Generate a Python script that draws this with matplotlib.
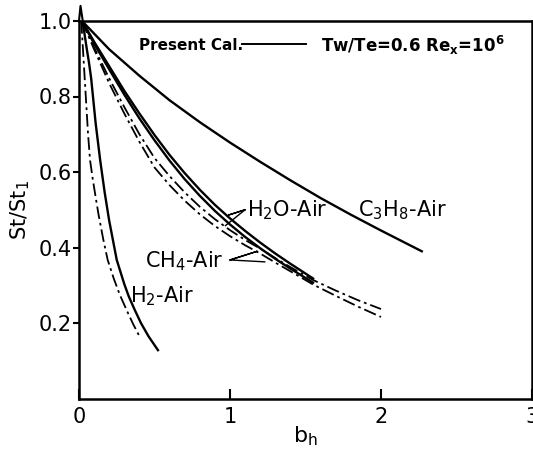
import numpy as np
import matplotlib
matplotlib.use('Agg')
import matplotlib.pyplot as plt

# curves (b_h, St/St1)
c3h8_x = [0.02, 0.2, 0.4, 0.6, 0.8, 1.0, 1.2, 1.4, 1.6, 1.8, 2.0, 2.27]
c3h8_y = [1.0, 0.925, 0.855, 0.79, 0.732, 0.678, 0.627, 0.578, 0.531, 0.487, 0.445, 0.39]

h2o_x = [0.02, 0.1, 0.2, 0.3, 0.4, 0.5, 0.6, 0.7, 0.8, 0.9, 1.0, 1.1, 1.2, 1.3, 1.4, 1.55]
h2o_y = [1.0, 0.945, 0.88, 0.815, 0.755, 0.698, 0.645, 0.597, 0.553, 0.513, 0.477, 0.444,
         0.413, 0.384, 0.357, 0.318]
ch4_x = [0.02, 0.1, 0.2, 0.3, 0.4, 0.5, 0.6, 0.7, 0.8, 0.9, 1.0, 1.1, 1.2, 1.3, 1.4, 1.55]
ch4_y = [1.0, 0.94, 0.872, 0.805, 0.742, 0.684, 0.63, 0.581, 0.537, 0.497, 0.461, 0.428,
         0.398, 0.370, 0.344, 0.307]

h2o_dd_x = [0.02, 0.1, 0.2, 0.3, 0.4, 0.5, 0.6, 0.7, 0.8, 0.9, 1.0, 1.1, 1.2, 1.3, 1.4,
            1.55, 1.7, 1.85, 2.0]
h2o_dd_y = [1.0, 0.93, 0.848, 0.772, 0.70, 0.637, 0.589, 0.546, 0.508, 0.475, 0.446, 0.42,
            0.397, 0.372, 0.348, 0.314, 0.286, 0.26, 0.237]
ch4_dd_x = [0.02, 0.1, 0.2, 0.3, 0.4, 0.5, 0.6, 0.7, 0.8, 0.9, 1.0, 1.1, 1.2, 1.3, 1.4,
            1.55, 1.7, 1.85, 2.0]
ch4_dd_y = [1.0, 0.925, 0.835, 0.755, 0.68, 0.612, 0.565, 0.524, 0.488, 0.457, 0.43, 0.406,
            0.384, 0.36, 0.337, 0.302, 0.272, 0.243, 0.216]

h2_x = [0.02, 0.035, 0.05, 0.066, 0.08, 0.11, 0.14, 0.17, 0.20, 0.25, 0.30, 0.33, 0.37,
        0.41, 0.46, 0.523]
h2_y = [1.0, 0.97, 0.93, 0.89, 0.85, 0.73, 0.632, 0.546, 0.471, 0.367, 0.303, 0.27, 0.234,
        0.20, 0.165, 0.128]
h2_dd_x = [0.015, 0.03, 0.045, 0.06, 0.073, 0.09, 0.11, 0.13, 0.16, 0.19, 0.23, 0.27, 0.32,
           0.36, 0.40]
h2_dd_y = [1.0, 0.90, 0.80, 0.70, 0.632, 0.584, 0.534, 0.486, 0.423, 0.367, 0.318, 0.275,
           0.23, 0.196, 0.165]

xticks = [0, 1, 2, 3]
xticklabels = ['0', '1', '2', '3']
yticks = [0.2, 0.4, 0.6, 0.8, 1.0]
yticklabels = ['0.2', '0.4', '0.6', '0.8', '1.0']

plt.rcParams['font.family'] = ['DejaVu Sans']
plt.rcParams['mathtext.fontset'] = 'dejavusans'

fig = plt.figure(figsize=(5.33, 4.5), dpi=100)
ax = fig.add_axes([79/533, 51.5/450, 453/533, 377.5/450])

dd = (0, (7, 2.2, 1.5, 2.2))
k = 'black'
ax.plot(c3h8_x, c3h8_y, color=k, lw=1.7)
ax.plot(h2o_x, h2o_y, color=k, lw=1.7)
ax.plot(ch4_x, ch4_y, color=k, lw=1.7)
ax.plot(h2o_dd_x, h2o_dd_y, color=k, lw=1.3, linestyle=dd)
ax.plot(ch4_dd_x, ch4_dd_y, color=k, lw=1.3, linestyle=dd)
ax.plot(h2_x, h2_y, color=k, lw=1.7)
ax.plot(h2_dd_x, h2_dd_y, color=k, lw=1.3, linestyle=dd)
# small peak at the origin of the curves
ax.plot([0.0, 0.01, 0.025], [1.0, 1.04, 1.0], color=k, lw=1.5, clip_on=False)

ax.set_xlim(0, 3)
ax.set_ylim(0, 1.0)
ax.set_xticks(xticks)
ax.set_xticklabels(xticklabels)
ax.set_yticks(yticks)
ax.set_yticklabels(yticklabels)
ax.tick_params(axis='x', direction='in', length=7, width=1.5, labelsize=15, pad=6)
ax.tick_params(axis='y', direction='out', length=4, width=1.5, labelsize=15, pad=1)
for s in ax.spines.values():
    s.set_linewidth(1.8)

ax.set_xlabel('b$_\\mathrm{h}$', fontsize=16, labelpad=-2)
ax.set_ylabel('St/St$_1$', fontsize=15, labelpad=5)

# legend-like header
ax.text(0.4, 0.935, 'Present Cal.', fontsize=11, fontweight='bold', ha='left', va='center')
ax.plot([1.08, 1.5], [0.94, 0.94], color=k, lw=1.4)
ax.text(1.6, 0.935, 'Tw/Te=0.6 Re$_\\mathbf{x}$=10$^\\mathbf{6}$', fontsize=12,
        fontweight='bold', ha='left', va='center')

# curve labels
ax.text(1.85, 0.50, 'C$_3$H$_8$-Air', fontsize=15, ha='left', va='center')
ax.text(1.11, 0.50, 'H$_2$O-Air', fontsize=15, ha='left', va='center')
ax.text(0.44, 0.365, 'CH$_4$-Air', fontsize=15, ha='left', va='center')
ax.text(0.34, 0.27, 'H$_2$-Air', fontsize=15, ha='left', va='center')

# pointer lines for labels
ax.plot([1.1, 0.99, 1.1, 0.97], [0.50, 0.486, 0.50, 0.458], color=k, lw=1.0)
ax.plot([1.0, 1.18, 1.0, 1.23], [0.367, 0.39, 0.367, 0.362], color=k, lw=1.0)

fig.savefig('out.png', dpi=100)
